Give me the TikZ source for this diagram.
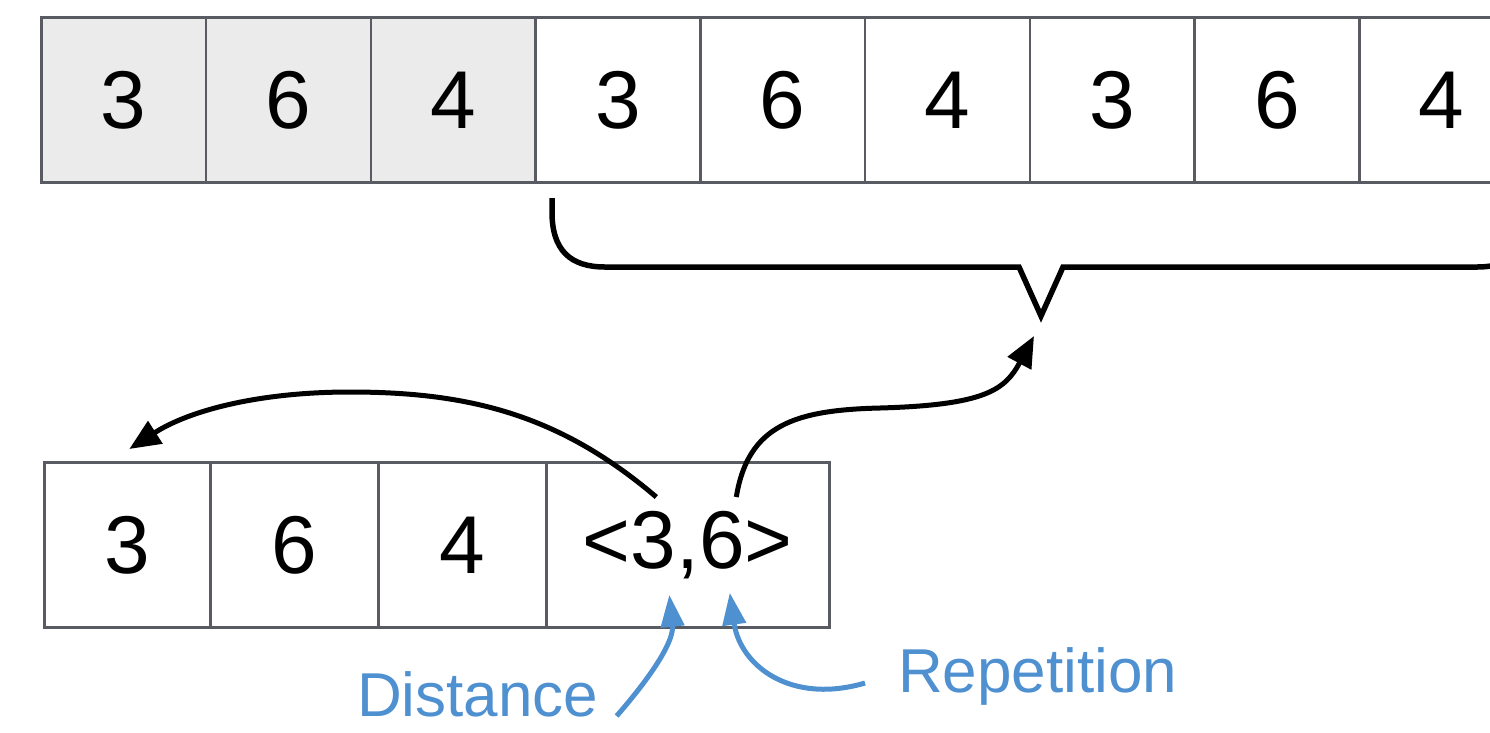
\documentclass[tikz,border=0pt]{standalone}
\usepackage{fontspec}
\setmainfont{Liberation Sans}
\usetikzlibrary{arrows.meta,calc}
\definecolor{cellborder}{RGB}{88,92,98}
\definecolor{cellgrey}{RGB}{235,235,235}
\definecolor{lblue}{RGB}{79,144,208}
\begin{document}
\begin{tikzpicture}[x=1pt,y=-1pt,
  cell/.style={draw=cellborder, line width=2.6pt, minimum width=164.75pt, minimum height=165pt,
    inner sep=0pt, anchor=north west, font=\fontsize{82}{90}\selectfont},
  lbl/.style={text=lblue, inner sep=0pt, text depth=0pt, font=\fontsize{62}{70}\selectfont},
  brace/.style={line width=5.5pt, line join=miter},
  arr/.style={line width=5pt, -{Triangle[length=31pt,width=26pt]}},
  barr/.style={draw=lblue, line width=5pt, -{Triangle[length=32pt,width=23pt]}}]
\useasboundingbox (0,0) rectangle (1490,732);
\clip (0,0) rectangle (1490,732);
% top row
\foreach \i/\d/\f in {1/3/cellgrey,2/6/cellgrey,3/4/cellgrey,4/3/white,5/6/white,6/4/white,7/3/white,8/6/white,9/4/white}
  \node[cell, fill=\f] (t\i) at ({40+164.75*(\i-1)},16) {\d};
% bottom row
\node[cell, minimum width=166pt, fill=white] (b1) at (43,461) {3};
\node[cell, minimum width=168pt, fill=white] (b2) at (209,461) {6};
\node[cell, minimum width=168pt, fill=white] (b3) at (377,461) {4};
\node[cell, minimum width=283pt, fill=white] (b4) at (545,461) {<3,6>};
% brace
\draw[brace] (552,198) -- (552,212) .. controls (552,250) and (570,267) .. (605,267)
  -- (1019,267) -- (1041,316) -- (1063,267) -- (1477,267)
  .. controls (1512,267) and (1530,250) .. (1530,212) -- (1530,198);
% labels
\node[lbl, anchor=base west] (dist) at (357,716) {Distance};
\node[lbl, anchor=base west] (rep) at (898,692) {Repetition};
% coordinates
\coordinate (lstart) at ($(b4.north)+(-31.5,36)$);
\coordinate (rstart) at ($(b4.north)+(48.5,36)$);
\coordinate (ltip) at ($(b1.north)+(2,-12)$);
\coordinate (rtip) at (1034,336);
\coordinate (dstart) at ($(dist.base east)+(18,0)$);
\coordinate (rpstart) at ($(rep.base west)+(-33,-9)$);
\coordinate (dtip) at ($(b4.center)+(-18.5,50)$);
\coordinate (rptip) at ($(b4.center)+(42,48)$);
% arrows
\draw[arr] (lstart) .. controls (560,415) and (470,392) .. (350,392)
  .. controls (260,392) and (190,410) .. (ltip);
\draw[arr] (rstart) .. controls (748,425) and (795,410) .. (880,408)
  .. controls (985,405) and (1005,390) .. (rtip);
\draw[barr] (dstart) .. controls (655,672) and (674,640) .. (dtip);
\draw[barr] (rpstart) .. controls (790,705) and (740,665) .. (rptip);
\end{tikzpicture}
\end{document}
